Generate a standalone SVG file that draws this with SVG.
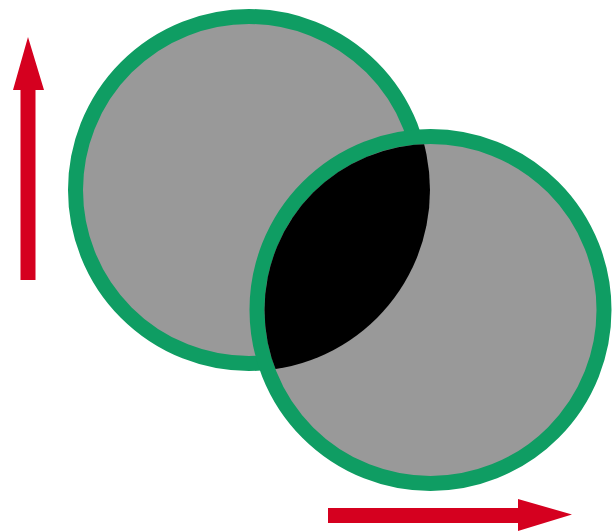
<svg xmlns="http://www.w3.org/2000/svg" width="616" height="531" viewBox="0 0 616 531">
  <style>
    .disc { fill: #999999; stroke: #0f9d63; stroke-width: 15; }
    .arrow { fill: #d5001f; }
  </style>
  <defs>
    <clipPath id="inner2">
      <circle cx="430.5" cy="310" r="166"/>
    </clipPath>
  </defs>
  <rect width="616" height="531" fill="#ffffff"/>
  <g id="circle1">
    <circle class="disc" cx="249" cy="190" r="173.5"/>
  </g>
  <g id="circle2">
    <circle class="disc" cx="430.5" cy="310" r="173.5"/>
  </g>
  <g id="overlap">
    <circle cx="249" cy="190" r="181" fill="#000000" clip-path="url(#inner2)"/>
  </g>
  <g id="arrow-up">
    <path class="arrow" d="M20.5,280 L35.5,280 L35.5,90 L44,90 L28,37 L13,90 L20.5,90 Z"/>
  </g>
  <g id="arrow-right">
    <path class="arrow" d="M328,508 L328,523 L518,523 L518,531 L572,514.5 L518,499 L518,508 Z"/>
  </g>
</svg>
